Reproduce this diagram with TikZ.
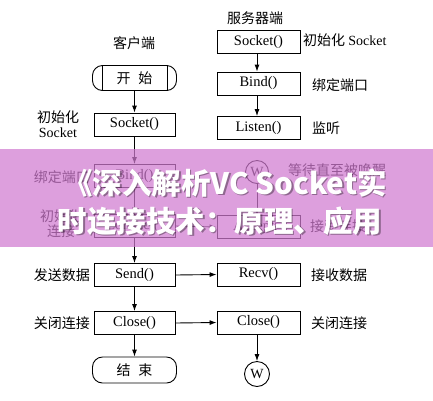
\documentclass[tikz,border=0pt]{standalone}
\usepackage{fontspec}
\setmainfont{Liberation Serif}
\newfontfamily\cjk{Noto Sans CJK SC}
\usetikzlibrary{arrows.meta}
\definecolor{bannerc}{RGB}{208,122,208}
\tikzset{
  box/.style={draw, line width=0.9pt, minimum width=81pt, minimum height=23pt, inner sep=0pt, font=\fontsize{14.5}{16}\selectfont},
  term/.style={draw, line width=0.9pt, rounded corners=10pt, minimum width=84pt, minimum height=25pt, inner sep=0pt, font=\cjk\fontsize{14}{16}\selectfont},
  lab/.style={inner sep=0pt, font=\cjk\fontsize{14}{15}\selectfont},
  wcirc/.style={draw, line width=0.9pt, circle, minimum size=25pt, inner sep=0pt, font=\fontsize{14}{16}\selectfont},
  arr/.style={-{Latex[length=7pt,width=5pt]}, line width=0.9pt},
  bannertxt/.style={inner sep=0pt, text=white, font=\cjk\bfseries\fontsize{29.5}{30}\selectfont},
  bannershadow/.style={inner sep=0pt, text=black, text opacity=0.35, font=\cjk\bfseries\fontsize{29.5}{30}\selectfont},
}
\begin{document}
\begin{tikzpicture}[x=1pt,y=-1pt]
\useasboundingbox (0,0) rectangle (433,400);
\fill[white] (0,0) rectangle (433,400);
% client side
\node[lab] (hc) at (134,43) {客户端};
\node[term] (start) at (134.5,78) {开\hspace{8pt}始};
\draw[line width=0.9pt] ([xshift=10pt]start.north west) -- ([xshift=10pt]start.south west);
\draw[line width=0.9pt] ([xshift=-10pt]start.north east) -- ([xshift=-10pt]start.south east);
\node[box] (cs) at (134.5,124.5) {Socket()};
\node[box] (cb) at (134.5,176) {Bind()};
\node[box] (cc) at (134.5,226) {Connect()};
\node[box] (csd) at (134.5,275) {Send()};
\node[box] (ccl) at (134.5,323) {Close()};
\node[term, minimum height=26pt] (end) at (134.5,370) {结\hspace{8pt}束};
\node[lab, align=center] (lcs) at (58,124.5) {初始化\\{\rmfamily Socket}};
\node[lab, anchor=east] (lcb) at (90,177) {绑定端口};
\node[lab, align=center] (lcc) at (61,224) {初始化\\连接};
\node[lab, anchor=east] (lcsd) at (90,275) {发送数据};
\node[lab, anchor=east] (lccl) at (90,323) {关闭连接};
% server side
\node[lab] (hs) at (255,18) {服务器端};
\node[box, minimum width=83pt] (ss) at (258.5,42) {Socket()};
\node[box, minimum width=83pt] (sb) at (258.5,83.5) {Bind()};
\node[box, minimum width=83pt] (sl) at (258.5,128) {Listen()};
\node[wcirc, minimum size=23pt] (w1) at (257,172) {W};
\node[box, minimum width=83pt] (sa) at (258.5,227) {Accept()};
\node[box, minimum width=83pt] (sr) at (258.5,274.5) {Recv()};
\node[box, minimum width=83pt] (scl) at (258.5,322.5) {Close()};
\node[wcirc] (w2) at (257,374) {W};
\node[lab, anchor=west] (lss) at (303,40) {初始化 {\rmfamily Socket}};
\node[lab, anchor=west] (lsb) at (312,85) {绑定端口};
\node[lab, anchor=west] (lsl) at (312,128) {监听};
\node[lab, anchor=west] (lw1) at (288,170) {等待直至被唤醒};
\node[lab, anchor=west] (lsa) at (310,226) {接受连接};
\node[lab, anchor=west] (lsr) at (311,275) {接收数据};
\node[lab, anchor=west] (lscl) at (311,323) {关闭连接};
% connectors
\draw[arr] (start.south) -- (cs.north);
\draw[arr] (cs.south) -- (cb.north);
\draw[arr] (cb.south) -- (cc.north);
\draw[arr] (cc.south) -- (csd.north);
\draw[arr] (csd.south) -- (ccl.north);
\draw[arr] (ccl.south) -- (end.north);
\draw[arr] (ss.south -| w1) -- (sb.north -| w1);
\draw[arr] (sb.south -| w1) -- (sl.north -| w1);
\draw[arr] (w1.south) -- (w1.south |- sa.north);
\draw[arr] (cc.east) -- (sa.west);
\draw[arr] (csd.east) -- (sr.west);
\draw[arr] (ccl.east) -- (scl.west);
\draw[arr] (scl.south -| w2) -- (w2.north);
% banner overlay
\fill[bannerc, opacity=0.72] (0,149) rectangle (433,247);
\node[bannershadow] (b1s) at (226.5,184.5) {《深入解析VC Socket实};
\node[bannershadow] (b2s) at (221.5,222.5) {时连接技术：原理、应用};
\node[bannertxt] (b1) at (225,183) {《深入解析VC Socket实};
\node[bannertxt] (b2) at (220,221) {时连接技术：原理、应用};
\end{tikzpicture}
\end{document}
